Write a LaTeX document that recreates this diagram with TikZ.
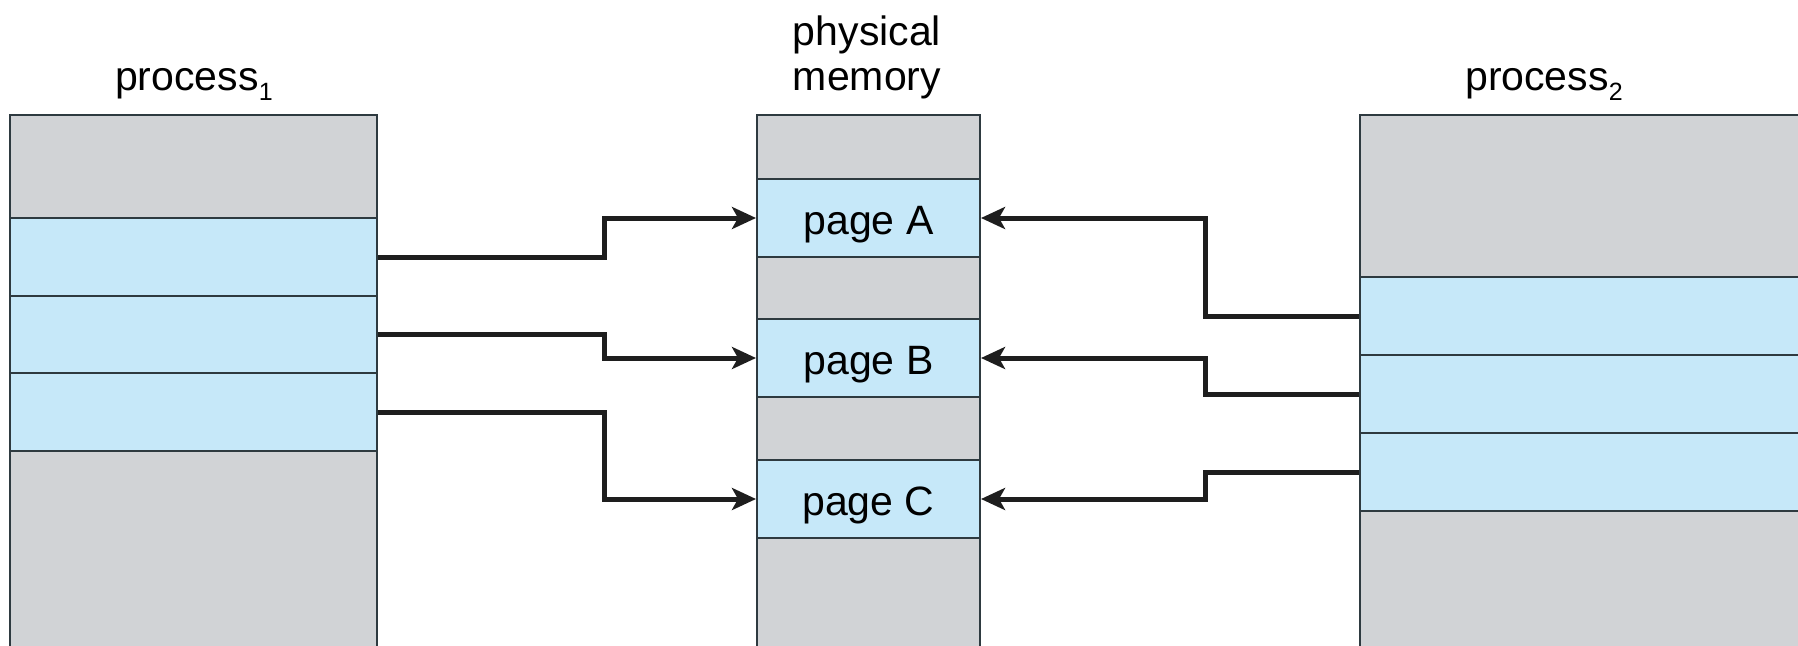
\documentclass[tikz,border=0pt]{standalone}
\usepackage{fontspec}
\setmainfont{Liberation Sans}
\usetikzlibrary{arrows.meta}
\definecolor{memgray}{HTML}{D1D3D6}
\definecolor{memblue}{HTML}{C6E8F9}
\definecolor{edge}{HTML}{2E3A40}
\definecolor{wire}{HTML}{1E1E1E}
\newcommand{\bigtext}{\fontsize{41}{45}\selectfont}
\newcommand{\subidx}[1]{\raisebox{-10pt}{\fontsize{25}{25}\selectfont #1}}
\tikzset{
  cell/.style={draw=edge, line width=2pt, inner sep=0pt, anchor=north west,
    font=\bigtext, text height=36pt, text depth=4pt},
  used/.style={cell, fill=memblue},
  free/.style={cell, fill=memgray},
  title/.style={font=\bigtext, inner sep=0pt},
  link/.style={draw=wire, line width=5pt,
    -{Stealth[length=24pt,width=22pt,inset=6pt]}},
}
\begin{document}
\begin{tikzpicture}[x=1pt,y=-1pt]
\useasboundingbox (0,0) rectangle (1798,645);
\clip (0,0) rectangle (1798,645);

% process 1 address space
\node[free, minimum width=367pt, minimum height=103pt] (p1top) at (9,114) {};
\node[used, minimum width=367pt, minimum height=78pt]  (p1a)   at (9,217) {};
\node[used, minimum width=367pt, minimum height=77pt]  (p1b)   at (9,295) {};
\node[used, minimum width=367pt, minimum height=78pt]  (p1c)   at (9,372) {};
\node[free, minimum width=367pt, minimum height=250pt] (p1bot) at (9,450) {};

% physical memory frames
\node[free, minimum width=223pt, minimum height=64pt]  (mtop) at (756,114) {};
\node[used, minimum width=223pt, minimum height=78pt]  (pgA)  at (756,178) {page A};
\node[free, minimum width=223pt, minimum height=62pt]  (mg1)  at (756,256) {};
\node[used, minimum width=223pt, minimum height=78pt]  (pgB)  at (756,318) {page B};
\node[free, minimum width=223pt, minimum height=63pt]  (mg2)  at (756,396) {};
\node[used, minimum width=223pt, minimum height=78pt]  (pgC)  at (756,459) {page C};
\node[free, minimum width=223pt, minimum height=180pt] (mbot) at (756,537) {};

% process 2 address space
\node[free, minimum width=500pt, minimum height=162pt] (p2top) at (1359,114) {};
\node[used, minimum width=500pt, minimum height=78pt]  (p2a)   at (1359,276) {};
\node[used, minimum width=500pt, minimum height=78pt]  (p2b)   at (1359,354) {};
\node[used, minimum width=500pt, minimum height=78pt]  (p2c)   at (1359,432) {};
\node[free, minimum width=500pt, minimum height=200pt] (p2bot) at (1359,510) {};

% headings
\node[title, anchor=base west] (t1) at (115,90) {process\subidx{1}};
\node[title, anchor=base] (tm1) at (867,45) {physical};
\node[title, anchor=base] (tm2) at (867,90) {memory};
\node[title, anchor=base west] (t2) at (1465,90) {process\subidx{2}};

% page mappings
\coordinate (lx) at (604,0);
\coordinate (rx) at (1205,0);
\draw[link] (p1a.east) -- (p1a.east -| lx) |- (pgA.west);
\draw[link] (p1b.east) -- (p1b.east -| lx) |- (pgB.west);
\draw[link] (p1c.east) -- (p1c.east -| lx) |- (pgC.west);
\draw[link] (p2a.west) -- (p2a.west -| rx) |- (pgA.east);
\draw[link] (p2b.west) -- (p2b.west -| rx) |- (pgB.east);
\draw[link] (p2c.west) -- (p2c.west -| rx) |- (pgC.east);
\end{tikzpicture}
\end{document}
